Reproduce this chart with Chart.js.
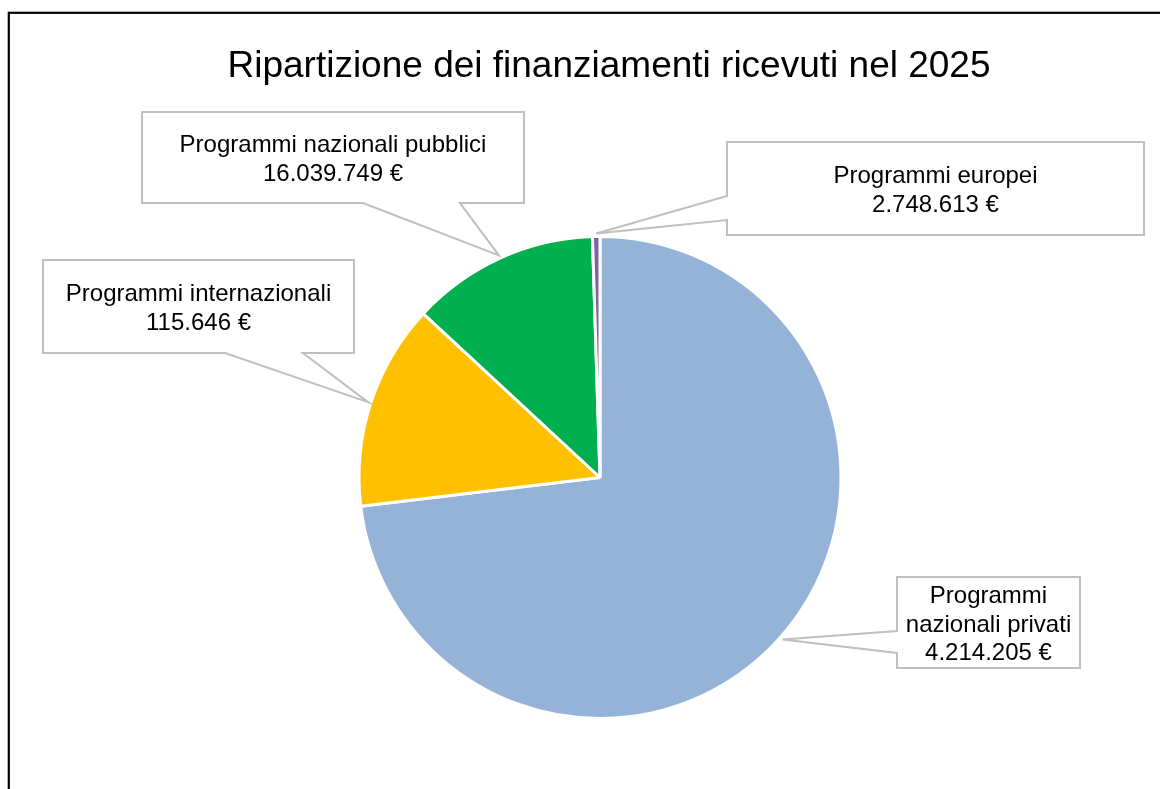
<!DOCTYPE html>
<html>
<head>
<meta charset="utf-8">
<title>Ripartizione dei finanziamenti ricevuti nel 2025</title>
<script src="https://cdn.jsdelivr.net/npm/chart.js@4.4.1/dist/chart.umd.min.js"></script>
<style>
  html, body { margin: 0; padding: 0; background: #fff; }
  #wrap { width: 1160px; height: 789px; }
</style>
</head>
<body>
<div id="wrap"><canvas id="fundingChart" width="1160" height="789"></canvas></div>
<script>
// slice order: clockwise from 12 o'clock
const categories = [
    'Programmi nazionali privati',
    'Programmi internazionali',
    'Programmi nazionali pubblici',
    'Programmi europei'
];
// slice shares (%)
const shares = [73.1, 13.8, 12.6, 0.5];
// amounts as printed in the data labels
const amounts = ['4.214.205 €', '115.646 €', '16.039.749 €', '2.748.613 €'];
const sliceColors = ['#95B3D7', '#FFC000', '#00B050', '#8064A2'];

const chartTitle = 'Ripartizione dei finanziamenti ricevuti nel 2025';
const FONT = "'Liberation Sans', Arial, sans-serif";

// callout boxes, same order as categories (pixels); tail = where the wedge leaves the box
const calloutLayout = [
    { x: 897, y: 577, w: 183, h: 91, side: 'left',   tail: [631, 653] },
    { x: 43,  y: 260, w: 311, h: 93, side: 'bottom', tail: [225, 303] },
    { x: 142, y: 112, w: 382, h: 91, side: 'bottom', tail: [363, 460] },
    { x: 727, y: 142, w: 417, h: 93, side: 'left',   tail: [196, 220] }
];

function wrapWords(ctx, text, maxWidth) {
    const words = text.split(' ');
    const lines = [];
    let line = '';
    words.forEach(w => {
        const test = line ? line + ' ' + w : w;
        if (line && ctx.measureText(test).width > maxWidth) {
            lines.push(line);
            line = w;
        } else {
            line = test;
        }
    });
    if (line) lines.push(line);
    return lines;
}

// white page, black frame (only left/top visible) and the title
const frameAndTitle = {
    id: 'frameAndTitle',
    beforeDraw(chart) {
        const ctx = chart.ctx;
        ctx.save();
        ctx.fillStyle = '#fff';
        ctx.fillRect(0, 0, chart.width, chart.height);
        ctx.strokeStyle = '#000';
        ctx.lineWidth = 2.2;
        ctx.strokeRect(8.8, 12.8, chart.width + 20, chart.height + 20);
        ctx.fillStyle = '#000';
        ctx.font = '37px ' + FONT;
        ctx.textAlign = 'center';
        ctx.textBaseline = 'alphabetic';
        ctx.fillText(chartTitle, 609, 77);
        ctx.restore();
    }
};

// Excel-like wedge callouts pointing at the middle of each slice
const callouts = {
    id: 'callouts',
    afterDraw(chart) {
        const ctx = chart.ctx;
        const arcs = chart.getDatasetMeta(0).data;
        ctx.save();
        arcs.forEach((arc, i) => {
            const box = calloutLayout[i];
            const mid = (arc.startAngle + arc.endAngle) / 2;
            const r = arc.outerRadius + 3;
            const tx = arc.x + Math.cos(mid) * r;
            const ty = arc.y + Math.sin(mid) * r;
            const { x, y, w, h } = box;

            ctx.beginPath();
            ctx.moveTo(x, y);
            ctx.lineTo(x + w, y);
            ctx.lineTo(x + w, y + h);
            if (box.side === 'bottom') {
                ctx.lineTo(box.tail[1], y + h);
                ctx.lineTo(tx, ty);
                ctx.lineTo(box.tail[0], y + h);
                ctx.lineTo(x, y + h);
            } else {
                ctx.lineTo(x, y + h);
                ctx.lineTo(x, box.tail[1]);
                ctx.lineTo(tx, ty);
                ctx.lineTo(x, box.tail[0]);
            }
            ctx.closePath();
            ctx.fillStyle = '#fff';
            ctx.fill();
            ctx.strokeStyle = '#BFBFBF';
            ctx.lineWidth = 2;
            ctx.lineJoin = 'miter';
            ctx.stroke();

            ctx.font = '24px ' + FONT;
            ctx.fillStyle = '#000';
            ctx.textAlign = 'center';
            ctx.textBaseline = 'middle';
            const lines = wrapWords(ctx, categories[i], w - 12).concat([amounts[i]]);
            const lh = 28.5;
            const cy = y + h / 2 + 2.5;
            lines.forEach((t, k) => {
                ctx.fillText(t, x + w / 2, cy + (k - (lines.length - 1) / 2) * lh);
            });
        });
        ctx.restore();
    }
};

const ctx = document.getElementById('fundingChart').getContext('2d');
new Chart(ctx, {
    type: 'pie',
    data: {
        labels: categories,
        datasets: [{
            data: shares,
            backgroundColor: sliceColors,
            borderColor: '#fff',
            borderWidth: 3
        }]
    },
    options: {
        responsive: false,
        animation: false,
        layout: {
            padding: { left: 357.5, right: 317.5, top: 235, bottom: 69 }
        },
        plugins: {
            legend: { display: false },
            tooltip: { enabled: false },
            title: { display: false }
        }
    },
    plugins: [frameAndTitle, callouts]
});
</script>
</body>
</html>
